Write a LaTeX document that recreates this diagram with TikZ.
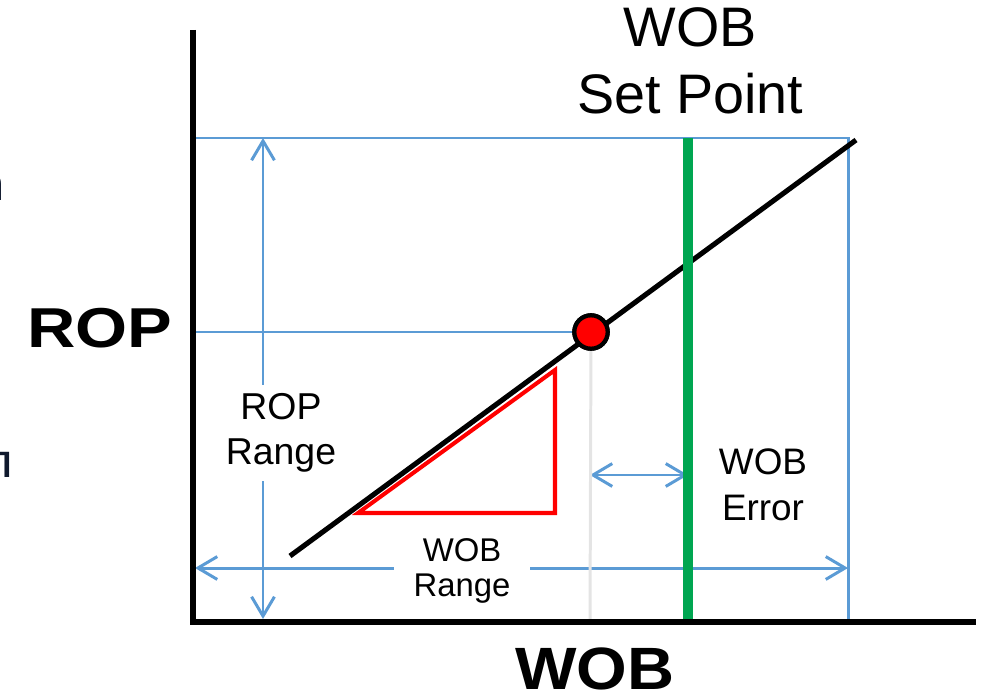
\documentclass[tikz,border=0pt]{standalone}
\usepackage{fontspec}
\usepackage{graphicx}
\setmainfont{Liberation Sans}
\newfontfamily\fragfont{Carlito}
\usetikzlibrary{arrows.meta}
\definecolor{rangeblue}{RGB}{91,155,213}
\definecolor{setgreen}{RGB}{0,166,81}
\definecolor{fragnavy}{RGB}{15,25,45}
\definecolor{droplgray}{RGB}{228,228,228}

\begin{document}
\begin{tikzpicture}[x=0.02cm,y=-0.02cm,line width=1.4pt,
  axis/.style={black,line width=2.9pt},
  guide/.style={rangeblue,line width=1.7pt},
  span/.style={guide,{Straight Barb[length=11pt,width=13pt]}-{Straight Barb[length=11pt,width=13pt]}},
  opdot/.style={circle,fill=red,draw=black,line width=2.4pt,minimum size=19pt,inner sep=0pt},
  lbl/.style={align=center,inner sep=0pt},
  gaplbl/.style={lbl,fill=white,inner xsep=7pt,inner ysep=5pt}]
\useasboundingbox (0,0) rectangle (986,699);
\coordinate (ytop) at (193,30);
\coordinate (orig) at (193,622);
\coordinate (xend) at (976,622);
\coordinate (topl) at (193,138);
\coordinate (topr) at (848,138);
\coordinate (botr) at (848,622);
\coordinate (ropl) at (193,332);
\coordinate (rrtop) at (263,138);
\coordinate (rrbot) at (263,619);
\coordinate (wrl) at (195,568);
\coordinate (wrr) at (848,568);
\coordinate (errl) at (590,475);
\coordinate (errr) at (688,475);
\coordinate (lna) at (290,556);
\coordinate (lnb) at (856,140);
\coordinate (tra) at (358,513);
\coordinate (trb) at (555,370);
\coordinate (trc) at (555,513);
\coordinate (sptop) at (688,138);
\coordinate (spbot) at (688,621);
\coordinate (opbot) at (590,621);
\node[opdot] (op) at (591,332) {};
\draw[guide] (topl) -- (topr) -- (botr);
\draw[guide] (ropl) -- (op);
\draw[span] (rrtop) -- (rrbot);
\draw[span] (wrl) -- (wrr);
\draw[span] (errl) -- (errr);
\draw[droplgray,line width=1.7pt] (op) -- (opbot);
\draw[red,line width=2.3pt,line join=miter] (tra) -- (trb) -- (trc) -- cycle;
\draw[black,line width=2.9pt] (lna) -- (lnb);
\draw[setgreen,line width=5.7pt] (sptop) -- (spbot);
\draw[axis] (ytop) -- (orig) -- (xend);
\node[opdot] at (op) {};
\node[lbl,font=\fontsize{31.7}{38}\selectfont] (setpt) at (690,61) {WOB\\Set Point};
\node[gaplbl,font=\fontsize{21.3}{25.5}\selectfont] (roprange) at (281,433) {ROP\\Range};
\node[gaplbl,font=\fontsize{18.7}{20.4}\selectfont,inner xsep=11pt] (wobrange) at (462,571) {WOB\\Range};
\node[lbl,font=\fontsize{21}{26}\selectfont] (woberr) at (763,485) {WOB\\Error};
\node[lbl,anchor=base,font=\bfseries\fontsize{32}{36}\selectfont] (ropax) at (100,347) {\scalebox{1.19}[1]{ROP}};
\node[lbl,anchor=base,font=\bfseries\fontsize{34}{38}\selectfont] (wobax) at (595,689) {\scalebox{1.09}[1]{WOB}};
\node[lbl,anchor=base east,text=fragnavy,font=\fragfont\fontsize{30.6}{34}\selectfont] (fragn) at (6,200) {n};
\node[lbl,anchor=base east,text=fragnavy,font=\fragfont\fontsize{30.6}{34}\selectfont] (fragt) at (15,477) {tı};
\end{tikzpicture}
\end{document}
